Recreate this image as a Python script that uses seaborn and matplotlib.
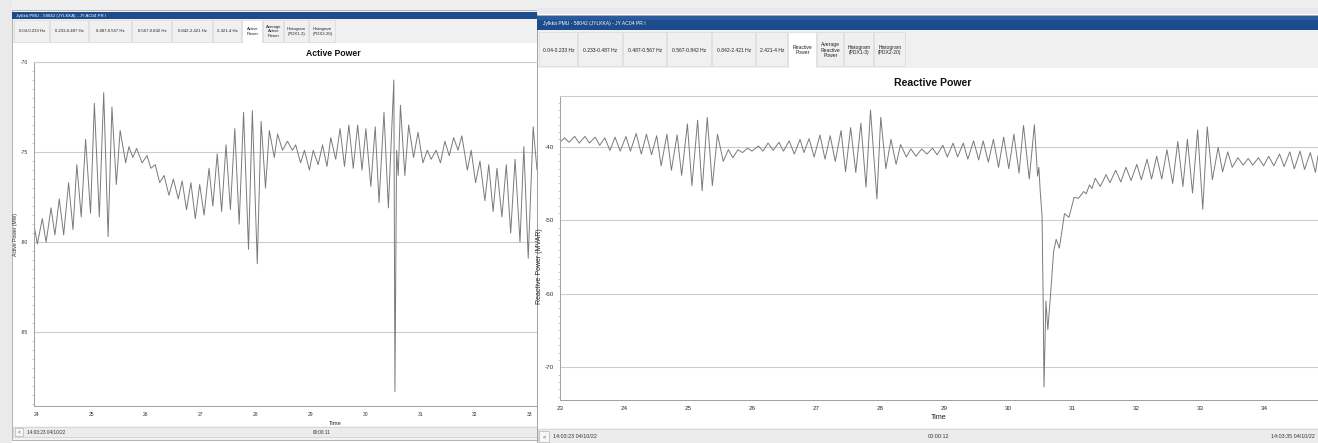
import numpy as np
import matplotlib
matplotlib.use("Agg")
import matplotlib.pyplot as plt
import seaborn as sns
from matplotlib.patches import Rectangle
from matplotlib.ticker import MultipleLocator

# ---- data (local peaks / troughs) ----
left_time = [23.95, 24.02, 24.11, 24.18, 24.27, 24.34, 24.42, 24.50, 24.59, 24.67,
             24.74, 24.82, 24.90, 24.99, 25.06, 25.15, 25.23, 25.31, 25.38, 25.46,
             25.53, 25.63, 25.69, 25.76, 25.83, 25.93, 26.02, 26.09, 26.17, 26.25,
             26.33, 26.42, 26.50, 26.59, 26.66, 26.74, 26.82, 26.90, 26.98, 27.06,
             27.15, 27.22, 27.30, 27.38, 27.46, 27.54, 27.62, 27.70, 27.78, 27.87,
             27.94, 28.03, 28.10, 28.18, 28.25, 28.34, 28.40, 28.49, 28.58, 28.67,
             28.73, 28.82, 28.89, 28.98, 29.05, 29.14, 29.22, 29.30, 29.37, 29.46,
             29.54, 29.62, 29.70, 29.78, 29.86, 29.94, 30.01, 30.10, 30.18, 30.25,
             30.34, 30.42, 30.52, 30.54, 30.57, 30.60, 30.64, 30.72, 30.79, 30.88,
             30.96, 31.05, 31.13, 31.20, 31.29, 31.37, 31.45, 31.53, 31.61, 31.69,
             31.76, 31.86, 31.93, 32.01, 32.09, 32.18, 32.25, 32.33, 32.40, 32.49,
             32.57, 32.65, 32.73, 32.82, 32.89, 32.97, 33.06, 33.13]
left_mw = [-78.9, -80.1, -78.7, -80.0, -78.1, -79.6, -77.6, -79.6, -76.7, -79.3,
           -75.7, -78.6, -74.3, -78.4, -72.3, -78.6, -71.7, -79.7, -72.5, -76.8,
           -73.8, -75.6, -74.7, -75.3, -74.8, -75.6, -75.2, -75.9, -75.7, -76.7,
           -76.3, -77.4, -76.5, -77.6, -76.6, -78.2, -76.7, -78.7, -76.8, -78.5,
           -75.9, -78.0, -75.1, -78.3, -74.6, -78.2, -73.7, -79.0, -72.8, -80.4,
           -72.7, -81.2, -73.3, -77.0, -73.8, -75.3, -74.0, -74.9, -74.4, -74.9,
           -74.6, -75.6, -74.9, -76.0, -74.9, -75.7, -74.6, -75.8, -74.2, -75.4,
           -73.7, -75.8, -73.5, -75.9, -73.5, -76.0, -73.7, -76.9, -73.6, -77.8,
           -72.8, -78.1, -71.0, -88.3, -74.9, -76.3, -72.4, -76.3, -73.5, -75.3,
           -73.9, -75.6, -74.9, -75.4, -74.9, -75.6, -74.4, -75.2, -74.2, -74.9,
           -74.1, -76.0, -74.9, -76.7, -75.5, -77.7, -75.7, -78.3, -75.9, -78.6,
           -75.7, -79.5, -75.4, -80.0, -74.7, -80.9, -73.6, -76.0]

right_time = [23.00, 23.07, 23.14, 23.23, 23.30, 23.39, 23.46, 23.55, 23.62, 23.70,
              23.78, 23.86, 23.94, 24.03, 24.10, 24.19, 24.27, 24.35, 24.43, 24.51,
              24.58, 24.67, 24.74, 24.83, 24.90, 24.99, 25.06, 25.15, 25.22, 25.30,
              25.38, 25.46, 25.55, 25.63, 25.70, 25.78, 25.85, 25.93, 26.00, 26.10,
              26.17, 26.25, 26.33, 26.42, 26.49, 26.58, 26.66, 26.75, 26.81, 26.89,
              26.97, 27.06, 27.14, 27.22, 27.30, 27.39, 27.46, 27.54, 27.62, 27.70,
              27.78, 27.85, 27.95, 28.01, 28.09, 28.17, 28.25, 28.32, 28.41, 28.48,
              28.56, 28.65, 28.73, 28.82, 28.89, 28.98, 29.05, 29.14, 29.21, 29.30,
              29.37, 29.46, 29.54, 29.61, 29.69, 29.77, 29.85, 29.93, 30.01, 30.09,
              30.17, 30.24, 30.33, 30.41, 30.46, 30.48, 30.50, 30.53, 30.55, 30.56,
              30.59, 30.62, 30.66, 30.71, 30.75, 30.80, 30.88, 30.95, 31.03, 31.10,
              31.18, 31.22, 31.27, 31.31, 31.36, 31.44, 31.53, 31.59, 31.68, 31.76,
              31.84, 31.92, 32.01, 32.08, 32.17, 32.24, 32.32, 32.40, 32.48, 32.57,
              32.65, 32.73, 32.80, 32.88, 32.96, 33.04, 33.11, 33.19, 33.28, 33.35,
              33.43, 33.50, 33.59, 33.67, 33.75, 33.82, 33.91, 33.99, 34.07, 34.15,
              34.24, 34.31, 34.40, 34.47, 34.56, 34.63, 34.72, 34.80, 34.84]
right_mvar = [-39.4, -38.8, -39.4, -38.6, -39.5, -38.6, -39.5, -38.7, -39.8, -38.8,
              -40.5, -38.7, -40.6, -38.6, -40.6, -38.2, -41.0, -38.3, -41.1, -38.5,
              -42.6, -38.3, -43.2, -38.4, -43.9, -36.9, -45.3, -36.4, -46.0, -36.0,
              -45.3, -38.3, -42.0, -40.4, -41.5, -40.4, -40.8, -40.2, -40.6, -39.9,
              -40.6, -39.5, -40.5, -39.4, -40.6, -39.2, -41.0, -39.0, -40.8, -38.9,
              -41.4, -38.4, -41.7, -38.5, -42.0, -37.8, -43.4, -37.4, -43.5, -36.8,
              -45.5, -35.0, -47.1, -36.0, -43.0, -39.0, -42.4, -39.7, -41.4, -40.3,
              -41.3, -40.3, -41.0, -40.2, -41.1, -39.8, -41.4, -39.5, -41.4, -39.5,
              -41.7, -39.2, -41.8, -39.2, -42.1, -39.0, -42.8, -38.7, -43.0, -38.3,
              -43.6, -37.1, -44.4, -37.0, -44.0, -42.8, -45.9, -49.5, -63.1, -72.7,
              -61.0, -64.9, -60.4, -54.3, -52.6, -53.8, -49.1, -49.6, -46.9, -47.0,
              -46.1, -46.4, -45.2, -45.7, -44.3, -45.4, -43.8, -44.9, -43.2, -44.8,
              -42.8, -44.6, -42.4, -44.5, -41.7, -44.4, -41.3, -44.4, -40.4, -45.0,
              -39.3, -45.4, -39.0, -46.3, -37.7, -48.5, -37.3, -44.5, -40.1, -43.4,
              -40.7, -42.8, -41.5, -42.5, -41.6, -42.5, -41.5, -42.6, -41.3, -42.6,
              -41.0, -42.7, -40.7, -43.0, -40.6, -43.1, -40.8, -43.5, -41.2]

left_xticks = [24, 25, 26, 27, 28, 29, 30, 31, 32, 33]
right_xticks = [23, 24, 25, 26, 27, 28, 29, 30, 31, 32, 33, 34]
left_yticks = [-70, -75, -80, -85]
right_yticks = [-40, -50, -60, -70]

left_tabs = ["0.04-0.233 Hz", "0.233-0.487 Hz", "0.487-0.567 Hz", "0.567-0.842 Hz",
             "0.842-2.421 Hz", "2.421-4 Hz", "Active\nPower", "Average\nActive\nPower",
             "Histogram\n(PDX1-3)", "Histogram\n(PDX2-20)"]
right_tabs = ["0.04-0.233 Hz", "0.233-0.487 Hz", "0.487-0.567 Hz", "0.567-0.842 Hz",
              "0.842-2.421 Hz", "2.421-4 Hz", "Reactive\nPower", "Average\nReactive\nPower",
              "Histogram\n(PDX1-3)", "Histogram\n(PDX2-20)"]
window_title = "Jylkkä PMU - 58042 (JYLKKA) - JY AC04 PR I"

sns.set_style("white")
plt.rcParams["font.family"] = ["Liberation Sans", "DejaVu Sans"]
plt.rcParams["axes.unicode_minus"] = False

W, H = 1318, 443
fig = plt.figure(figsize=(W / 100, H / 100), dpi=100)
fig.patch.set_facecolor("white")


def rect(x0, y0, x1, y1):
    return [x0 / W, 1 - y1 / H, (x1 - x0) / W, (y1 - y0) / H]


def box(x0, y0, x1, y1, color, ec="none", lw=0.6, z=0):
    fig.add_artist(Rectangle((x0 / W, 1 - y1 / H), (x1 - x0) / W, (y1 - y0) / H,
                             transform=fig.transFigure, facecolor=color,
                             edgecolor=ec, linewidth=lw, zorder=z))


def label(x, y, s, size=4, ha="center", va="center", **kw):
    fig.text(x / W, 1 - y / H, s, fontsize=size, ha=ha, va=va, **kw)


# screenshot shadow / desktop
box(0, 0, W, 12, "#efefef")
box(0, 0, 12, H, "#eaeaea")

# ---- left window chrome ----
box(12, 10, 537, 440, "#f3f3f3", ec="#a9a9a9")
box(12, 12, 537, 19, "#1d4c8c")
label(16, 15.5, window_title, size=3.2, ha="left", color="white")
box(13, 19, 537, 43, "#f0f0f0")
left_tab_x = [14, 50, 89, 132, 172, 213, 242, 263, 284, 309, 336]
for i, s in enumerate(left_tabs):
    x0, x1 = left_tab_x[i], left_tab_x[i + 1]
    box(x0, 20, x1 - 1, 43 if i == 6 else 42, "white" if i == 6 else "#f0f0f0",
        ec="#dadada", lw=0.5)
    label((x0 + x1) / 2, 31.5, s, size=3.1, color="#222222", linespacing=1.1)
box(13, 43, 537, 426, "white")
box(13, 427, 537, 437, "#ececec", ec="#cfcfcf", lw=0.5)
box(15, 428, 23, 436, "#f7f7f7", ec="#b5b5b5", lw=0.5)
label(19, 432, "<", size=3.5, color="#444444")
label(27, 432, "14:03:23 04/10/22", size=3.4, ha="left", color="#333333")
label(322, 432, "00:00:11", size=3.4, color="#333333")

# ---- right window chrome ----
box(537, 8, W, 14, "#e6e9ee")
box(537, 15, W + 2, H + 2, "#f3f3f3", ec="#9a9a9a")
box(537, 16, W, 30, "#1d4c8c")
box(537, 16, W, 20, "#2a5b9c")
label(543, 23, window_title, size=3.6, ha="left", color="white")
box(538, 30, W, 68, "#f0f0f0")
right_tab_x = [539, 578, 623, 667, 712, 756, 788, 817, 844, 874, 906]
for i, s in enumerate(right_tabs):
    x0, x1 = right_tab_x[i], right_tab_x[i + 1]
    box(x0, 32, x1 - 1, 68 if i == 6 else 66, "white" if i == 6 else "#f0f0f0",
        ec="#dadada", lw=0.5)
    label((x0 + x1) / 2, 50, s, size=3.6, color="#222222", linespacing=1.15)
box(538, 68, W, 428, "white")
box(538, 429, W, H, "#ececec", ec="#cfcfcf", lw=0.5)
box(539, 431, 549, 442, "#f7f7f7", ec="#b5b5b5", lw=0.5)
label(544, 436.5, "<", size=4, color="#444444")
label(553, 437, "14:03:23 04/10/22", size=3.9, ha="left", color="#333333")
label(938, 437, "00:00:12", size=3.9, color="#333333")
label(1315, 437, "14:03:35 04/10/22", size=3.9, ha="right", color="#333333")

line_color = "#7a7a7a"
grid_color = "#cccccc"


def style_axes(ax, xticks, yticks, minor_y, tick_size):
    ax.set_xticks(xticks)
    ax.set_yticks(yticks)
    ax.yaxis.set_minor_locator(MultipleLocator(minor_y))
    ax.grid(axis="y", which="major", color=grid_color, linewidth=0.8)
    ax.grid(axis="x", visible=False)
    ax.set_facecolor("white")
    for side in ["left", "bottom"]:
        ax.spines[side].set_color("#a0a0a0")
        ax.spines[side].set_linewidth(0.7)
    ax.spines["top"].set_color(grid_color)
    ax.spines["top"].set_linewidth(0.8)
    ax.spines["right"].set_visible(False)
    ax.tick_params(axis="both", which="major", length=2, width=0.5,
                   color="#909090", labelsize=tick_size, pad=2, labelcolor="#333333")
    ax.tick_params(axis="y", which="minor", length=1.2, width=0.4, color="#a0a0a0",
                   left=True)


# ---- left: active power ----
ax1 = fig.add_axes(rect(33.5, 62, 537, 406))
sns.lineplot(x=left_time, y=left_mw, ax=ax1, color=line_color, linewidth=0.7,
             estimator=None, sort=False)
ax1.set_xlim(23.95, 33.13)
ax1.set_ylim(-89.1, -70)
style_axes(ax1, left_xticks, left_yticks, 0.5, 3.6)
ax1.set_xlabel("Time", fontsize=4.2, labelpad=0, color="#222222")
ax1.set_ylabel("Active Power (MW)", fontsize=3.6, labelpad=2, color="#222222")
ax1.xaxis.set_label_coords(0.6, -0.045)
label(333, 53, "Active Power", size=6.2, weight="bold", color="#111111")

# ---- right: reactive power ----
ax2 = fig.add_axes(rect(560, 96, W, 400))
sns.lineplot(x=right_time, y=right_mvar, ax=ax2, color=line_color, linewidth=0.7,
             estimator=None, sort=False)
ax2.set_xlim(23, 34.84)
ax2.set_ylim(-74.46, -33.1)
style_axes(ax2, right_xticks, right_yticks, 1, 4.6)
ax2.set_xlabel("Time", fontsize=5.2, labelpad=0, color="#222222")
ax2.set_ylabel("Reactive Power (MVAR)", fontsize=5, labelpad=2, color="#222222")
ax2.xaxis.set_label_coords(0.5, -0.045)
ax2.yaxis.set_label_coords(-0.022, 0.44)
label(933, 83, "Reactive Power", size=7.6, weight="bold", color="#111111")

fig.savefig("out.png", dpi=100)
